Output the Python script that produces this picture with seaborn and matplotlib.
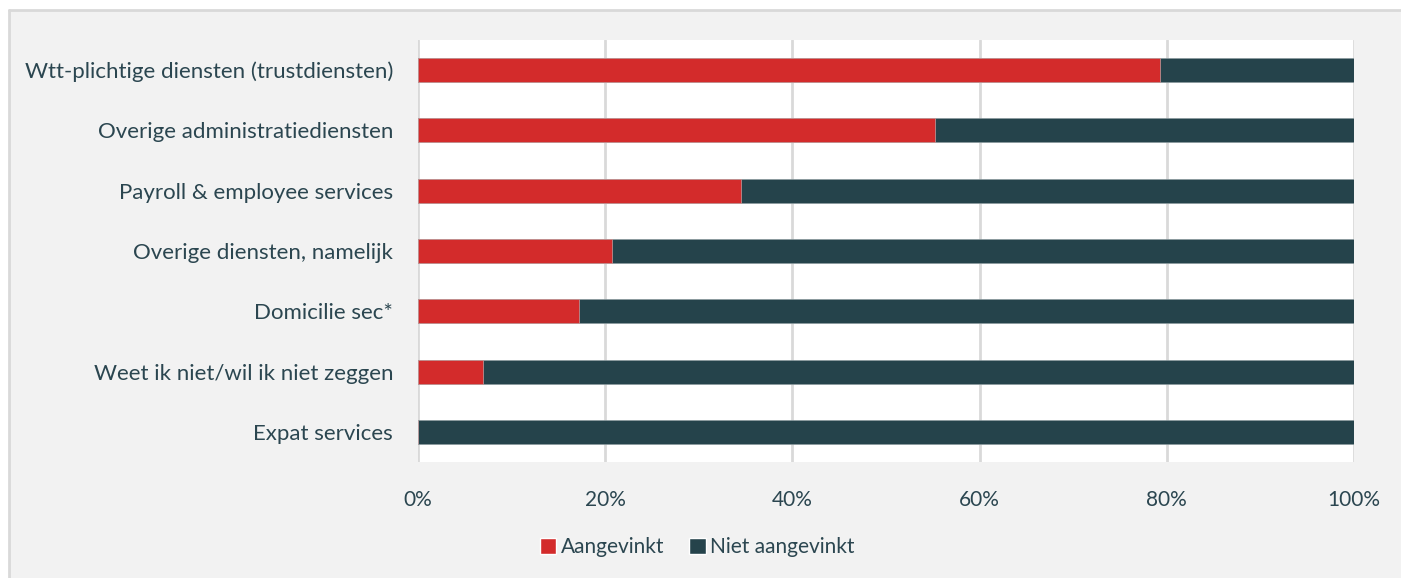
import matplotlib
matplotlib.use("Agg")
import matplotlib.pyplot as plt
import seaborn as sns
import pandas as pd
from matplotlib.patches import Rectangle, Patch
from matplotlib.lines import Line2D
from matplotlib.ticker import PercentFormatter

categories = [
    "Wtt-plichtige diensten (trustdiensten)",
    "Overige administratiediensten",
    "Payroll & employee services",
    "Overige diensten, namelijk",
    "Domicilie sec*",
    "Weet ik niet/wil ik niet zeggen",
    "Expat services",
]
aangevinkt = [79.3, 55.2, 34.5, 20.7, 17.2, 6.9, 0.0]
niet_aangevinkt = [100 - v for v in aangevinkt]
series_names = ["Aangevinkt", "Niet aangevinkt"]
x_ticks = [0, 20, 40, 60, 80, 100]

RED = "#d32b2b"
DARK = "#25434b"
TEXT = "#2b4650"
BG = "#f2f2f2"

sns.set_theme(style="white")
plt.rcParams["font.family"] = ["Lato", "DejaVu Sans"]

df = pd.DataFrame({"cat": categories, "a": aangevinkt,
                   "total": [a + b for a, b in zip(aangevinkt, niet_aangevinkt)]})

W, H = 1401, 578
fig = plt.figure(figsize=(W / 100, H / 100), dpi=100)
fig.patch.set_facecolor("white")
fig.patches.append(Rectangle((9 / W, 0), 1, 1 - 11 / H, transform=fig.transFigure,
                             facecolor=BG, edgecolor="none", zorder=-10))
fig.lines.append(Line2D([9 / W, 1], [1 - 10 / H, 1 - 10 / H], transform=fig.transFigure,
                        color="#d9d9d9", linewidth=2, zorder=-9))
fig.lines.append(Line2D([9 / W, 9 / W], [0, 1 - 10 / H], transform=fig.transFigure,
                        color="#d9d9d9", linewidth=2, zorder=-9))

ax = fig.add_axes([418 / W, 1 - 462 / H, (1354 - 418) / W, (462 - 40) / H])
ax.set_facecolor("white")

sns.barplot(data=df, y="cat", x="total", orient="h", color=DARK, width=0.4,
            edgecolor="#8a9a9e", linewidth=0.5, ax=ax, zorder=3, saturation=1)
sns.barplot(data=df, y="cat", x="a", orient="h", color=RED, width=0.4,
            edgecolor="#c9a0a0", linewidth=0.5, ax=ax, zorder=4, saturation=1)

ax.set_xlim(0, 100)
ax.set_ylim(6.5, -0.5)
ax.set_xticks(x_ticks)
ax.xaxis.set_major_formatter(PercentFormatter(decimals=0))
ax.grid(axis="x", color="#d9d9d9", linewidth=2, zorder=0)
ax.set_axisbelow(True)
for s in ax.spines.values():
    s.set_visible(False)
ax.set_xlabel("")
ax.set_ylabel("")
ax.tick_params(axis="y", length=0, pad=18, labelsize=16, labelcolor=TEXT)
ax.tick_params(axis="x", length=0, pad=20, labelsize=15, labelcolor=TEXT)

handles = [Patch(facecolor=RED, label=series_names[0]),
           Patch(facecolor=DARK, label=series_names[1])]
fig.legend(handles=handles, loc="center", bbox_to_anchor=(697 / W, 1 - 547 / H),
           ncol=2, frameon=False, fontsize=15, handlelength=0.8, handleheight=0.8,
           handletextpad=0.2, columnspacing=1.2, labelcolor=TEXT)

fig.savefig("out.png", dpi=100, facecolor=fig.get_facecolor())
